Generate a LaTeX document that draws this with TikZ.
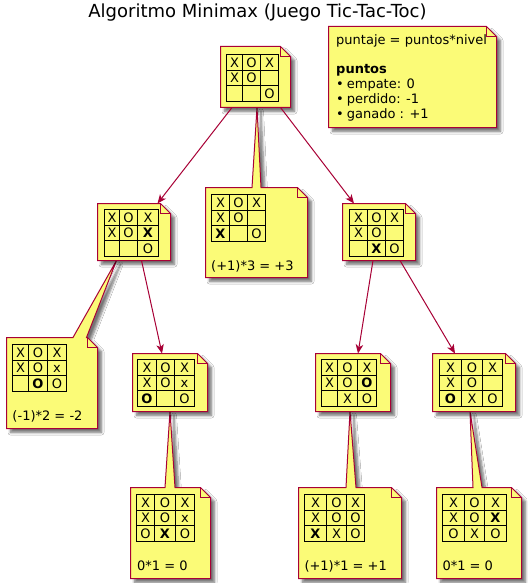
\documentclass[tikz,border=0pt]{standalone}
\usepackage{fontspec}
\setmainfont{DejaVu Sans}
\usetikzlibrary{matrix,arrows.meta,shadows.blur}

\definecolor{notefill}{HTML}{FBFB77}
\definecolor{noteedge}{HTML}{A80036}

\newcommand\cellfont{\fontsize{13}{15}\selectfont}
\newcommand\notefont{\fontsize{13}{15}\selectfont}

\tikzset{
  notebox/.style={inner sep=0pt, outer sep=0pt, anchor=north west},
  noteline/.style={draw=noteedge, fill=notefill, line width=1pt, line join=miter,
    blur shadow={shadow xshift=4pt, shadow yshift=-4pt, shadow opacity=55,
                 shadow blur radius=2.5pt, shadow blur steps=6}},
  foldline/.style={draw=noteedge, line width=1pt},
  cell/.style={outer sep=0pt, inner sep=0pt,
    minimum height=16pt, text height=9.4pt, text depth=0pt, font=\cellfont},
  gridline/.style={draw=black, line width=1.3pt},
  board/.style n args={3}{matrix of nodes, nodes in empty cells, anchor=north west,
    inner sep=0pt, outer sep=0pt, column sep=0pt, row sep=0pt, nodes={cell},
    row 2/.style={nodes={minimum height=15pt}},
    column 1/.style={nodes={minimum width=#1}},
    column 2/.style={nodes={minimum width=#2}},
    column 3/.style={nodes={minimum width=#3}}},
  notetext/.style={anchor=base west, inner sep=0pt, font=\notefont},
  link/.style={draw=noteedge, line width=1pt,
    -{Stealth[length=9pt, width=7.5pt, inset=2.5pt]}},
}

% note outline with a folded top-right corner
\newcommand\notebody[1]{%
  \path[noteline] (#1.north west) -- ([xshift=-10pt]#1.north east)
    -- ([yshift=-10pt]#1.north east) -- (#1.south east) -- (#1.south west) -- cycle;
  \draw[foldline] ([xshift=-10pt]#1.north east) |- ([yshift=-10pt]#1.north east);}

% note outline whose top edge grows a tail up to another note
% #1 note, #2/#3 tail base (offsets from the left edge), #4 tail tip
\newcommand\tailnote[4]{%
  \path[noteline] (#1.north west) -- ([xshift=#2]#1.north west) -- (#4)
    -- ([xshift=#3]#1.north west) -- ([xshift=-10pt]#1.north east)
    -- ([yshift=-10pt]#1.north east) -- (#1.south east) -- (#1.south west) -- cycle;
  \draw[foldline] ([xshift=-10pt]#1.north east) |- ([yshift=-10pt]#1.north east);}

% ruling of a 3x3 board, each line drawn once
\newcommand\ruleboard[1]{%
  \draw[gridline] (#1-1-1.north west) rectangle (#1-3-3.south east);
  \draw[gridline] (#1-1-1.north east) -- (#1-3-1.south east)
                  (#1-1-2.north east) -- (#1-3-2.south east)
                  (#1-1-1.south west) -- (#1-1-3.south east)
                  (#1-2-1.south west) -- (#1-2-3.south east);}

\begin{document}
\begin{tikzpicture}[x=1pt,y=-1pt]
\useasboundingbox (0,0) rectangle (527,583);
\fill[white] (0,0) rectangle (527,583);

\node[font=\fontsize{18}{18}\selectfont, anchor=base, inner sep=0pt] (title)
  at (257.5,18) {Algoritmo Minimax (Juego Tic-Tac-Toc)};

% note frames
\node[notebox, minimum width=70pt, minimum height=61pt] (root) at (220.5,46.5) {};
\node[notebox, minimum width=168pt, minimum height=101pt] (legend) at (328.5,26.5) {};
\node[notebox, minimum width=73pt, minimum height=57pt] (n1) at (97.5,203.5) {};
\node[notebox, minimum width=102pt, minimum height=90pt] (n2) at (205.5,187.5) {};
\node[notebox, minimum width=73pt, minimum height=57pt] (n3) at (342.5,203.5) {};
\node[notebox, minimum width=91pt, minimum height=91pt] (n4) at (6.5,337.5) {};
\node[notebox, minimum width=75pt, minimum height=58pt] (n5) at (132.5,353.5) {};
\node[notebox, minimum width=75pt, minimum height=58pt] (n6) at (315.5,353.5) {};
\node[notebox, minimum width=83pt, minimum height=58pt] (n7) at (432.5,353.5) {};
\node[notebox, minimum width=80pt, minimum height=91pt] (n8) at (130.5,487.5) {};
\node[notebox, minimum width=103pt, minimum height=91pt] (n9) at (298.5,487.5) {};
\node[notebox, minimum width=85pt, minimum height=91pt] (n10) at (436.5,487.5) {};

% notes attached by a tail
\tailnote{n2}{46.5pt}{55.5pt}{[xshift=36.5pt]root.south west}
\tailnote{n4}{66.5pt}{80pt}{[xshift=19pt]n1.south west}
\tailnote{n8}{34.5pt}{44.5pt}{[xshift=37.5pt]n5.south west}
\tailnote{n9}{47.5pt}{57.5pt}{[xshift=34.5pt]n6.south west}
\tailnote{n10}{36.5pt}{45.5pt}{[xshift=37.5pt]n7.south west}

% free-standing notes
\notebody{root}
\notebody{legend}
\notebody{n1}
\notebody{n3}
\notebody{n5}
\notebody{n6}
\notebody{n7}

% boards
\matrix (b0) [board={16pt}{18pt}{18pt}] at (226.5,54.5)
  {X & O & X \\ X & O & \\ & & O \\};
\matrix (b1) [board={15pt}{18pt}{21pt}] at (104.5,209.5)
  {X & O & X \\ X & O & \textbf{X} \\ & & O \\};
\matrix (b2) [board={18pt}{18pt}{18pt}] at (211.5,194.5)
  {X & O & X \\ X & O & \\ \textbf{X} & & O \\};
\matrix (b3) [board={18pt}{18pt}{18pt}] at (349.5,209.5)
  {X & O & X \\ X & O & \\ & \textbf{X} & O \\};
\matrix (b4) [board={16pt}{19pt}{19pt}] at (12.5,344.5)
  {X & O & X \\ X & O & x \\ & \textbf{O} & O \\};
\matrix (b5) [board={19pt}{18pt}{20pt}] at (137.5,359.5)
  {X & O & X \\ X & O & x \\ \textbf{O} & & O \\};
\matrix (b6) [board={16pt}{20pt}{19pt}] at (321.5,359.5)
  {X & O & X \\ X & O & \textbf{O} \\ & X & O \\};
\matrix (b7) [board={22pt}{21pt}{20pt}] at (439.5,359.5)
  {X & O & X \\ X & O & \\ \textbf{O} & X & O \\};
\matrix (b8) [board={18pt}{21pt}{19pt}] at (136.5,494.5)
  {X & O & X \\ X & O & x \\ O & \textbf{X} & O \\};
\matrix (b9) [board={22pt}{20pt}{18pt}] at (304.5,494.5)
  {X & O & X \\ X & O & O \\ \textbf{X} & X & O \\};
\matrix (b10) [board={22pt}{20pt}{22pt}] at (442.5,494.5)
  {X & O & X \\ X & O & \textbf{X} \\ O & X & O \\};

\foreach \b in {b0,b1,b2,b3,b4,b5,b6,b7,b8,b9,b10} {\ruleboard{\b}}

% scores
\node[notetext] (s2) at (211,270) {(+1)*3 = +3};
\node[notetext] (s4) at (12.3,420) {(-1)*2 = -2};
\node[notetext] (s8) at (137,570) {0*1 = 0};
\node[notetext] (s9) at (304.3,570) {(+1)*1 = +1};
\node[notetext] (s10) at (442.3,570) {0*1 = 0};

% legend
\node[notetext] (lg1) at (336,45) {puntaje = puntos*nivel};
\node[notetext, font=\notefont\bfseries] (lg2) at (336,73.5) {puntos};
\node[notetext] (lg3) at (336,88.3) {•\hspace{3pt}empate: 0};
\node[notetext] (lg4) at (336,103.3) {•\hspace{3pt}perdido: -1};
\node[notetext] (lg5) at (336,119) {•\hspace{3pt}ganado : +1};

% moves
\draw[link] ([xshift=11.5pt]root.south west) -- ([xshift=-13pt]n1.north east);
\draw[link] ([xshift=-10pt]root.south east) -- ([xshift=11.5pt]n3.north west);
\draw[link] ([xshift=44pt]n1.south west) -- ([xshift=29.5pt]n5.north west);
\draw[link] ([xshift=30.5pt]n3.south west) -- ([xshift=42.5pt]n6.north west);
\draw[link] ([xshift=57.5pt]n3.south west) -- ([xshift=22.5pt]n7.north west);
\end{tikzpicture}
\end{document}
